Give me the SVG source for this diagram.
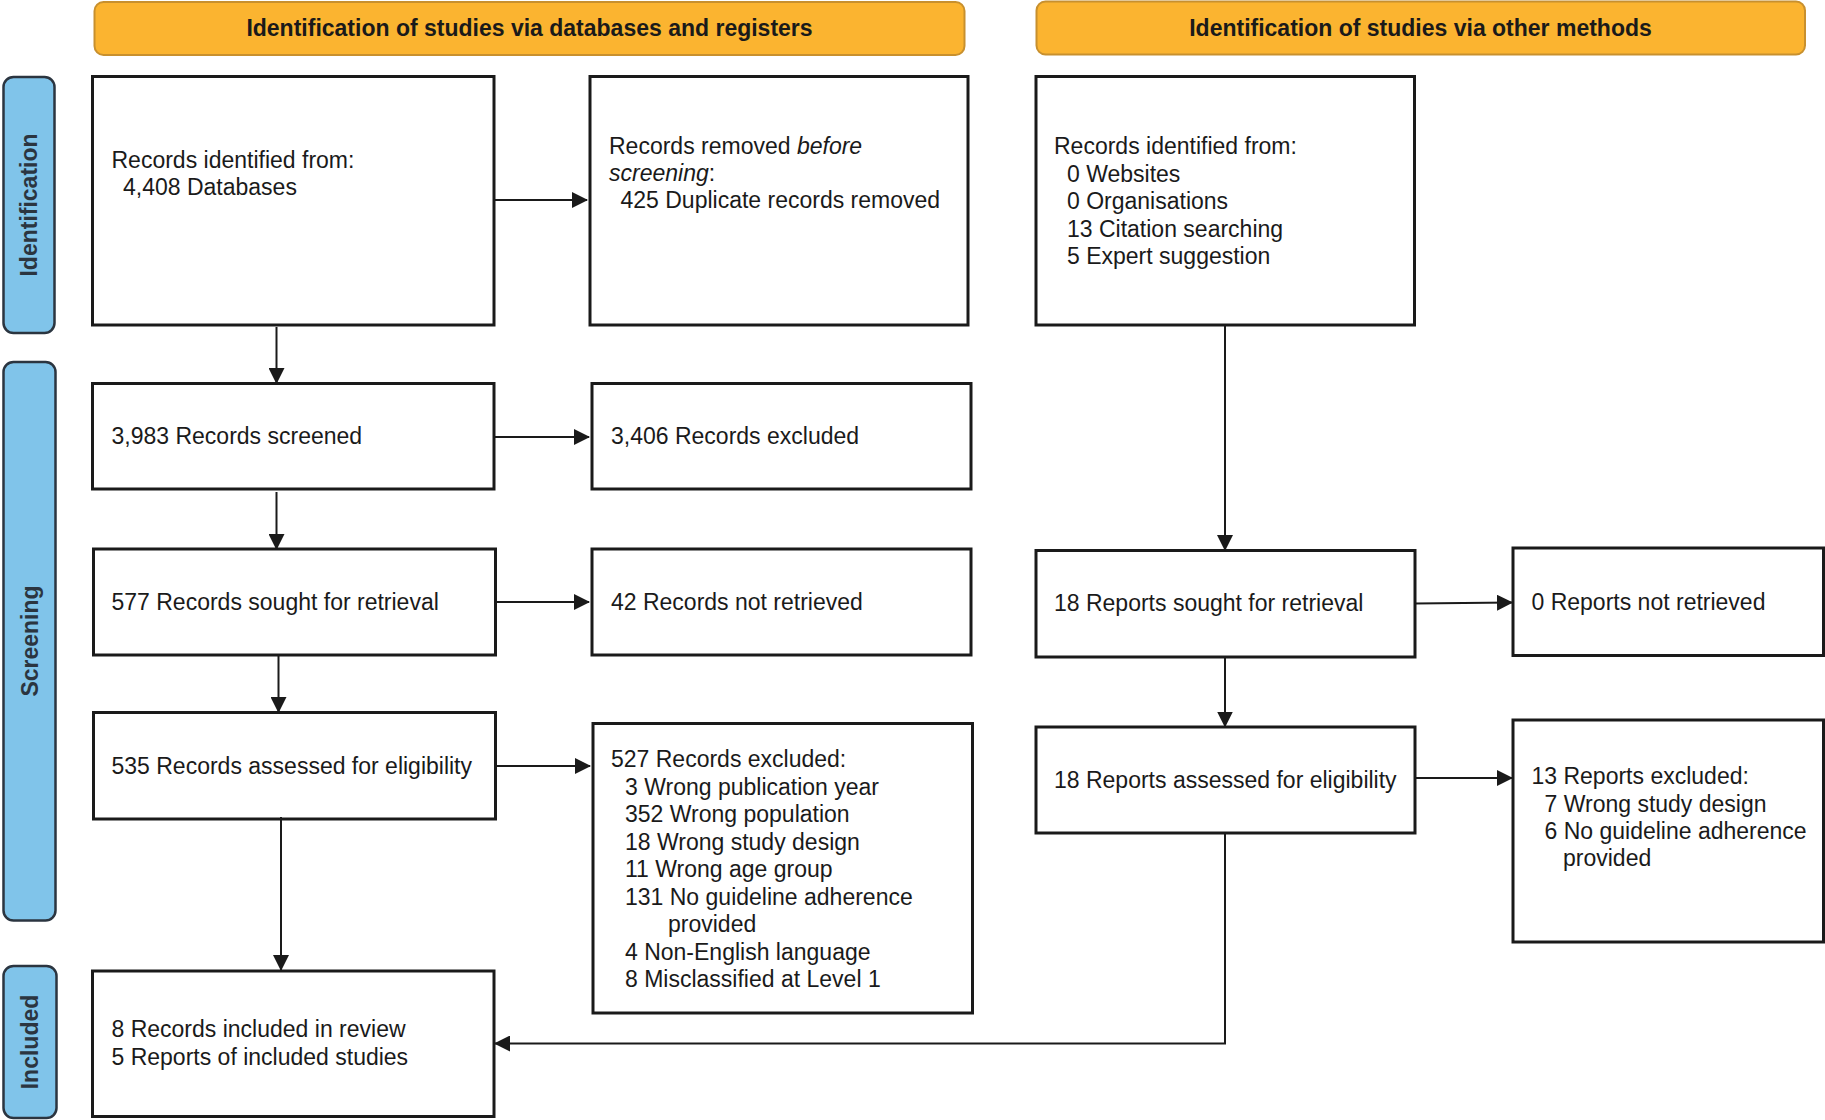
<svg xmlns="http://www.w3.org/2000/svg" width="1825" height="1120" viewBox="0 0 1825 1120">
<defs>
<marker id="ah" viewBox="0 0 16 16" refX="15" refY="8" markerWidth="16" markerHeight="16" markerUnits="userSpaceOnUse" orient="auto">
<path d="M0,0 L16,8 L0,16 Z" fill="#1a1a1a"/>
</marker>
<style>
.hdr{fill:#FBB430;stroke:#C8902E;stroke-width:2}
.side{fill:#80C4EA;stroke:#2B3540;stroke-width:2.5}
.box{fill:#ffffff;stroke:#1a1a1a;stroke-width:3}
.t{font-family:"Liberation Sans",Arial,sans-serif;font-size:23px;fill:#1a1a1a}
.ht{font-family:"Liberation Sans",Arial,sans-serif;font-size:23px;font-weight:bold;fill:#1a1a1a;text-anchor:middle}
.st{font-family:"Liberation Sans",Arial,sans-serif;font-size:23px;font-weight:bold;fill:#2B3540;text-anchor:middle}
.c{fill:none;stroke:#1a1a1a;stroke-width:2}
</style>
</defs>
<rect width="1825" height="1120" fill="#ffffff"/>
<g id="header-databases">
<rect class="hdr" x="94.5" y="2" width="870" height="53" rx="9"/>
<text class="ht" x="529.5" y="36">Identification of studies via databases and registers</text>
</g>
<g id="header-other">
<rect class="hdr" x="1036.5" y="1.5" width="768.5" height="53" rx="9"/>
<text class="ht" x="1420.5" y="36">Identification of studies via other methods</text>
</g>
<g id="side-identification">
<rect class="side" x="3.5" y="77" width="51" height="256" rx="10"/>
<text class="st" transform="translate(37,205) rotate(-90)">Identification</text>
</g>
<g id="side-screening">
<rect class="side" x="3.5" y="362" width="52" height="558.5" rx="10"/>
<text class="st" transform="translate(38,641) rotate(-90)">Screening</text>
</g>
<g id="side-included">
<rect class="side" x="3.5" y="966" width="53" height="152" rx="10"/>
<text class="st" transform="translate(38,1042) rotate(-90)">Included</text>
</g>
<g id="db-identified">
<rect class="box" x="92.5" y="76.5" width="401.5" height="248.5"/>
<text class="t" x="111.5" y="168">Records identified from:</text>
<text class="t" x="123" y="195">4,408 Databases</text>
</g>
<g id="db-removed">
<rect class="box" x="590" y="76.5" width="378" height="248.5"/>
<text class="t" x="609" y="154">Records removed <tspan font-style="italic">before</tspan></text>
<text class="t" x="609" y="181"><tspan font-style="italic">screening</tspan>:</text>
<text class="t" x="620.5" y="208">425 Duplicate records removed</text>
</g>
<g id="other-identified">
<rect class="box" x="1036" y="76.5" width="378.5" height="248.5"/>
<text class="t" x="1054" y="154">Records identified from:</text>
<text class="t" x="1067" y="181.5">0 Websites</text>
<text class="t" x="1067" y="209">0 Organisations</text>
<text class="t" x="1067" y="236.5">13 Citation searching</text>
<text class="t" x="1067" y="264">5 Expert suggestion</text>
</g>
<g id="db-screened">
<rect class="box" x="92.5" y="383.5" width="401.5" height="105.5"/>
<text class="t" x="111.5" y="444">3,983 Records screened</text>
</g>
<g id="db-excluded">
<rect class="box" x="592" y="383.5" width="379" height="105.5"/>
<text class="t" x="611" y="444">3,406 Records excluded</text>
</g>
<g id="db-sought">
<rect class="box" x="93.5" y="549" width="402" height="106"/>
<text class="t" x="111.5" y="610">577 Records sought for retrieval</text>
</g>
<g id="db-not-retrieved">
<rect class="box" x="592" y="549" width="379" height="106"/>
<text class="t" x="611" y="610">42 Records not retrieved</text>
</g>
<g id="db-assessed">
<rect class="box" x="93.5" y="712.5" width="402" height="106.5"/>
<text class="t" x="111.5" y="774">535 Records assessed for eligibility</text>
</g>
<g id="db-excluded-reasons">
<rect class="box" x="593" y="723.5" width="379.5" height="289.5"/>
<text class="t" x="611" y="767">527 Records excluded:</text>
<text class="t" x="625" y="794.5">3 Wrong publication year</text>
<text class="t" x="625" y="822">352 Wrong population</text>
<text class="t" x="625" y="849.5">18 Wrong study design</text>
<text class="t" x="625" y="877">11 Wrong age group</text>
<text class="t" x="625" y="904.5">131 No guideline adherence</text>
<text class="t" x="668" y="932">provided</text>
<text class="t" x="625" y="959.5">4 Non-English language</text>
<text class="t" x="625" y="987">8 Misclassified at Level 1</text>
</g>
<g id="other-sought">
<rect class="box" x="1036" y="550.5" width="379" height="106.5"/>
<text class="t" x="1054" y="611">18 Reports sought for retrieval</text>
</g>
<g id="other-not-retrieved">
<rect class="box" x="1513" y="548" width="310.5" height="107.5"/>
<text class="t" x="1531.5" y="610">0 Reports not retrieved</text>
</g>
<g id="other-assessed">
<rect class="box" x="1036" y="727" width="379" height="106"/>
<text class="t" x="1054" y="788">18 Reports assessed for eligibility</text>
</g>
<g id="other-excluded">
<rect class="box" x="1513" y="720" width="310.5" height="222"/>
<text class="t" x="1531.5" y="784">13 Reports excluded:</text>
<text class="t" x="1544.5" y="811.5">7 Wrong study design</text>
<text class="t" x="1544.5" y="839">6 No guideline adherence</text>
<text class="t" x="1563" y="866">provided</text>
</g>
<g id="included">
<rect class="box" x="92.5" y="971" width="401.5" height="145.5"/>
<text class="t" x="111.5" y="1037">8 Records included in review</text>
<text class="t" x="111.5" y="1065">5 Reports of included studies</text>
</g>
<g id="connectors">
<line class="c" x1="494" y1="200" x2="587" y2="200" marker-end="url(#ah)"/>
<line class="c" x1="276.5" y1="327" x2="276.5" y2="383" marker-end="url(#ah)"/>
<line class="c" x1="494" y1="437" x2="589" y2="437" marker-end="url(#ah)"/>
<line class="c" x1="276.5" y1="492" x2="276.5" y2="549" marker-end="url(#ah)"/>
<line class="c" x1="495.5" y1="602" x2="589" y2="602" marker-end="url(#ah)"/>
<line class="c" x1="278.5" y1="655" x2="278.5" y2="712" marker-end="url(#ah)"/>
<line class="c" x1="495.5" y1="766" x2="590" y2="766" marker-end="url(#ah)"/>
<line class="c" x1="281" y1="817" x2="281" y2="970" marker-end="url(#ah)"/>
<line class="c" x1="1225" y1="325" x2="1225" y2="550" marker-end="url(#ah)"/>
<line class="c" x1="1415" y1="603.5" x2="1512" y2="602.5" marker-end="url(#ah)"/>
<line class="c" x1="1225" y1="657" x2="1225" y2="726.5" marker-end="url(#ah)"/>
<line class="c" x1="1415" y1="778" x2="1512" y2="778" marker-end="url(#ah)"/>
<polyline class="c" points="1225,833 1225,1043.5 495,1043.5" marker-end="url(#ah)"/>
</g>
</svg>
